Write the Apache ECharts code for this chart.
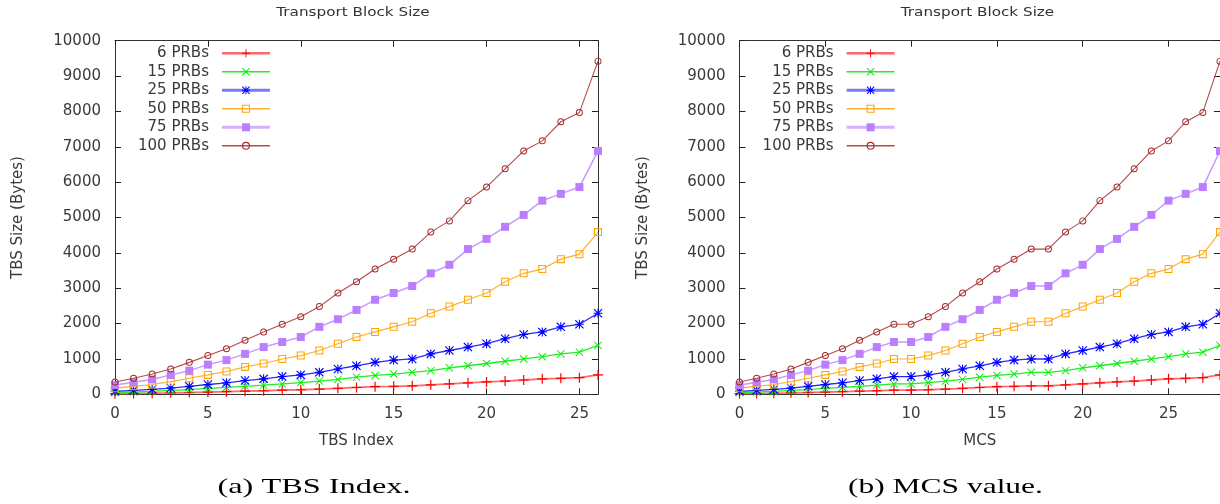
<!DOCTYPE html>
<html>
<head>
<meta charset="utf-8">
<script src="https://cdn.jsdelivr.net/npm/echarts@6/dist/echarts.min.js"></script>
<style>
html,body{margin:0;padding:0;background:#fff;}
#c{width:1220px;height:504px;}
</style>
</head>
<body>
<div id="c"></div>
<script>
// ---------------- data (bytes) ----------------
const seriesNames = ['6 PRBs', '15 PRBs', '25 PRBs', '50 PRBs', '75 PRBs', '100 PRBs'];
const tbsIndex = [0,1,2,3,4,5,6,7,8,9,10,11,12,13,14,15,16,17,18,19,20,21,22,23,24,25,26];
const mcsValues = [0,1,2,3,4,5,6,7,8,9,10,11,12,13,14,15,16,17,18,19,20,21,22,23,24,25,26,27,28];
// TBS index used for each MCS value
const mcsTbsIndex = [0,1,2,3,4,5,6,7,8,9,9,10,11,12,13,14,15,16,16,17,18,19,20,21,22,23,24,25,26];
const prb6   = [19,26,32,41,51,63,75,89,101,117,129,149,169,193,217,225,241,269,293,325,349,373,405,437,453,469,549];
const prb15  = [49,65,81,109,133,165,193,225,261,293,333,373,421,485,533,573,621,669,749,807,871,935,999,1063,1143,1191,1383];
const prb25  = [85,113,137,177,225,277,325,389,437,501,549,621,717,807,903,967,999,1143,1239,1335,1431,1572,1692,1764,1908,1980,2292];
const prb50  = [173,225,277,357,453,549,645,775,871,999,1095,1239,1431,1620,1764,1908,2052,2292,2481,2673,2865,3182,3422,3542,3822,3963,4587];
const prb75  = [261,341,421,549,669,839,967,1143,1335,1479,1620,1908,2124,2385,2673,2865,3062,3422,3662,4107,4395,4736,5072,5477,5669,5861,6882];
const prb100 = [349,453,573,717,903,1095,1287,1527,1764,1980,2196,2481,2865,3182,3542,3822,4107,4587,4904,5477,5861,6378,6882,7167,7708,7972,9422];
const xTickInterval = 5;
const yTickInterval = 1000;
const yMax = 10000;
const panelTitle = 'Transport Block Size';
const yAxisName = 'TBS Size (Bytes)';
const xAxisNames = ['TBS Index', 'MCS'];
const captions = ['(a) TBS Index.', '(b) MCS value.'];

// ---------------- styles ----------------
const allValues = [prb6, prb15, prb25, prb50, prb75, prb100];
const PLUS  = 'path://M4.4,0H5.6V4.4H10V5.6H5.6V10H4.4V5.6H0V4.4H4.4Z';
const CROSS = 'path://M0,0.85L0.85,0L5,4.15L9.15,0L10,0.85L5.85,5L10,9.15L9.15,10L5,5.85L0.85,10L0,9.15L4.15,5Z';
const STAR  = 'path://M4.4,0H5.6V4.4H10V5.6H5.6V10H4.4V5.6H0V4.4H4.4Z M0.9,0L5,4.1L9.1,0L10,0.9L5.9,5L10,9.1L9.1,10L5,5.9L0.9,10L0,9.1L4.1,5L0,0.9Z';
const OSQUARE = 'path://M0,0H10V10H0Z M1.3,1.3V8.7H8.7V1.3Z';
const OCIRCLE = 'path://M5,0A5,5 0 1,1 5,10A5,5 0 1,1 5,0Z M5,1.4A3.6,3.6 0 1,0 5,8.6A3.6,3.6 0 1,0 5,1.4Z';
const styles = [
  {mark:'#ff0000', line:'#ff6a6a', lw:1.8, symbol:PLUS,    size:10, legLine:'#ff6a6a', legW:2.5},
  {mark:'#00ee00', line:'#22ee22', lw:1.3, symbol:CROSS,   size:8,  legLine:'#22ee22', legW:1.5},
  {mark:'#0000ff', line:'#2a2aff', lw:1.3, symbol:STAR,    size:9,  legLine:'#7a7aff', legW:3},
  {mark:'#ffa500', line:'#ffb030', lw:1.2, symbol:OSQUARE, size:8,  legLine:'#ffb030', legW:1.5},
  {mark:'#bb7eff', line:'#c999ff', lw:1.5, symbol:'rect',  size:8,  legLine:'#d4b0ff', legW:3},
  {mark:'#a52a2a', line:'#b54a4a', lw:1.1, symbol:OCIRCLE, size:7,  legLine:'#b54a4a', legW:1.5}
];

const FONT = 'DejaVu Sans';
const TXT = '#3a3a3a';

const grids = [
  {left:115, top:40.7, width:483, height:353.6},
  {left:739.5, top:40.7, width:482, height:353.6}
];
const xMaxes = [tbsIndex[tbsIndex.length-1], mcsValues[mcsValues.length-1]];

const xAxes = [], yAxes = [];
[0,1].forEach(g => {
  const base = {
    type:'value', gridIndex:g, min:0, max:xMaxes[g], interval:xTickInterval,
    axisLine:{show:true, onZero:false, lineStyle:{color:'#333', width:1}},
    axisTick:{show:true, inside:true, length:6, lineStyle:{color:'#222', width:1}},
    splitLine:{show:false}
  };
  xAxes.push(Object.assign({}, base, {
    position:'bottom',
    axisLabel:{show:true, showMaxLabel:false, margin:12, color:TXT, fontFamily:FONT, fontSize:15, formatter:v => String(v)},
    name:xAxisNames[g], nameLocation:'middle', nameGap:39,
    nameTextStyle:{color:TXT, fontFamily:FONT, fontSize:15}
  }));
  xAxes.push(Object.assign({}, base, {position:'top', axisLabel:{show:false}}));
  const ybase = {
    type:'value', gridIndex:g, min:0, max:yMax, interval:yTickInterval,
    axisLine:{show:true, onZero:false, lineStyle:{color:'#333', width:1}},
    axisTick:{show:true, inside:true, length:6, lineStyle:{color:'#222', width:1}},
    splitLine:{show:false}
  };
  yAxes.push(Object.assign({}, ybase, {
    position:'left',
    axisLabel:{show:true, margin:14, color:TXT, fontFamily:FONT, fontSize:15, formatter:v => String(v)},
    name:yAxisName, nameLocation:'middle', nameGap:g === 0 ? 89.5 : 88.7, nameRotate:90,
    nameTextStyle:{color:TXT, fontFamily:FONT, fontSize:15}
  }));
  yAxes.push(Object.assign({}, ybase, {position:'right', axisLabel:{show:false}}));
});

const series = [];
seriesNames.forEach((name, s) => {
  const st = styles[s];
  const vals = allValues[s];
  const common = {
    name, type:'line', symbol:st.symbol, symbolSize:st.size, clip:false,
    lineStyle:{color:st.line, width:st.lw},
    itemStyle:{color:st.mark, borderWidth:0},
    emphasis:{disabled:true}, animation:false, z:2+s
  };
  series.push(Object.assign({}, common, {
    xAxisIndex:0, yAxisIndex:0,
    data: tbsIndex.map((x, i) => [x, vals[i]])
  }));
  series.push(Object.assign({}, common, {
    xAxisIndex:2, yAxisIndex:2,
    data: mcsValues.map((m) => [m, vals[mcsTbsIndex[m]]])
  }));
});

function legendFor(left) {
  return {
    orient:'vertical', left:left, top:45.8, align:'right', padding:0,
    itemWidth:48, itemHeight:10, itemGap:3.5, selectedMode:false,
    textStyle:{fontFamily:FONT, fontSize:15, color:TXT, lineHeight:15, padding:[0,8,0,0]},
    data: seriesNames.map((n, s) => ({
      name:n,
      lineStyle:{color:styles[s].legLine, width:styles[s].legW}
    }))
  };
}

const chart = echarts.init(document.getElementById('c'), null, {renderer:'canvas', width:1220, height:504});
chart.setOption({
  backgroundColor:'#ffffff',
  animation:false,
  grid: grids,
  xAxis: xAxes,
  yAxis: yAxes,
  legend: [legendFor(138), legendFor(762.6)],
  series: series,
  graphic: [
    {type:'text', x:353, y:12.5, scaleX:1.17, style:{text:panelTitle, font:'13px "DejaVu Sans"', fill:'#333', align:'center', verticalAlign:'middle'}},
    {type:'text', x:977.5, y:12.5, scaleX:1.17, style:{text:panelTitle, font:'13px "DejaVu Sans"', fill:'#333', align:'center', verticalAlign:'middle'}},
    {type:'text', x:314, y:487, scaleX:1.47, style:{text:captions[0], font:'22px "Liberation Serif"', fill:'#000', align:'center', verticalAlign:'middle'}},
    {type:'text', x:945.5, y:487, scaleX:1.43, style:{text:captions[1], font:'22px "Liberation Serif"', fill:'#000', align:'center', verticalAlign:'middle'}}
  ]
});
</script>
</body>
</html>
